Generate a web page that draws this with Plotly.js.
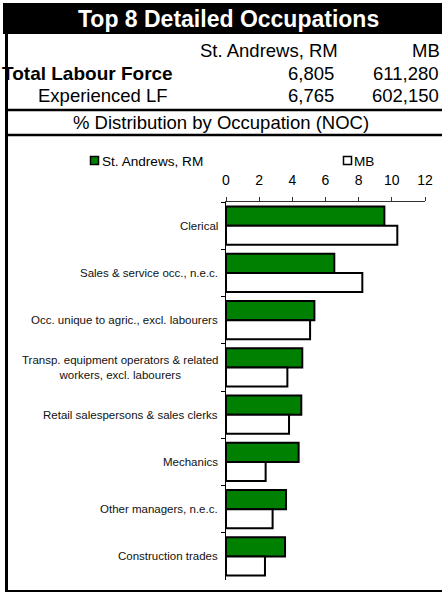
<!DOCTYPE html>
<html>
<head>
<meta charset="utf-8">
<script src="https://cdn.plot.ly/plotly-3.0.1.min.js"></script>
<style>
html,body{margin:0;padding:0;background:#fff;}
#chart{width:442px;height:594px;}
</style>
</head>
<body>
<div id="chart"></div>
<script>
// ---- data ----
var chartTitle = "Top 8 Detailed Occupations";
var regionNames = ["St. Andrews, RM", "MB"];
var totalLabourForce = [6805, 611280];
var experiencedLF = [6765, 602150];
var sectionTitle = "% Distribution by Occupation (NOC)";
var categories = [
  "Clerical",
  "Sales & service occ., n.e.c.",
  "Occ. unique to agric., excl. labourers",
  "Transp. equipment operators & related<br>workers, excl. labourers",
  "Retail salespersons & sales clerks",
  "Mechanics",
  "Other managers, n.e.c.",
  "Construction trades"
];
var stAndrewsValues = [9.55, 6.53, 5.33, 4.60, 4.54, 4.38, 3.62, 3.56];
var mbValues        = [10.33, 8.22, 5.07, 3.70, 3.80, 2.39, 2.81, 2.35];
var xTicks = [0, 2, 4, 6, 8, 10, 12];

// ---- layout helpers (pixel -> paper) ----
var W = 442, H = 594;
var PL = 226, PR = 425, PT = 202, PB = 580;
function px(x){ return (x - PL) / (PR - PL); }
function py(y){ return (PB - y) / (PB - PT); }
var FONT = "Liberation Sans, Arial, Helvetica, sans-serif";
function fmt(n){ return n.toLocaleString('en-US'); }

var traces = [
  {type:'bar', orientation:'h', name: regionNames[0], y: categories, x: stAndrewsValues,
   marker:{color:'#008000', line:{color:'#000', width:2}}, showlegend:false, hoverinfo:'x+y'},
  {type:'bar', orientation:'h', name: regionNames[1], y: categories, x: mbValues,
   marker:{color:'#ffffff', line:{color:'#000', width:2}}, showlegend:false, hoverinfo:'x+y'}
];

var shapes = [
  // header band
  {type:'rect', xref:'paper', yref:'paper', x0:px(3), x1:px(442), y0:py(3), y1:py(34), fillcolor:'#000', line:{width:0}},
  // left border
  {type:'line', xref:'paper', yref:'paper', x0:px(6.5), x1:px(6.5), y0:py(34), y1:py(592), line:{color:'#000', width:3}},
  // bottom border
  {type:'line', xref:'paper', yref:'paper', x0:px(5), x1:px(442), y0:py(591), y1:py(591), line:{color:'#000', width:2}},
  // row separators
  {type:'line', xref:'paper', yref:'paper', x0:px(5), x1:px(442), y0:py(110), y1:py(110), line:{color:'#000', width:2.5}},
  {type:'line', xref:'paper', yref:'paper', x0:px(5), x1:px(442), y0:py(135), y1:py(135), line:{color:'#000', width:2.5}},
  // legend swatches
  {type:'rect', xref:'paper', yref:'paper', x0:px(90.5), x1:px(98.5), y0:py(156.5), y1:py(164.5), fillcolor:'#008000', line:{color:'#000', width:1.5}},
  {type:'rect', xref:'paper', yref:'paper', x0:px(343.5), x1:px(351.5), y0:py(156.5), y1:py(164.5), fillcolor:'#ffffff', line:{color:'#000', width:1.5}}
];

function ann(text, x, y, anchor, size, opts){
  opts = opts || {};
  return {xref:'paper', yref:'paper', x:px(x), y:py(y), xanchor:anchor, yanchor:'middle',
    text:text, showarrow:false, align: opts.align || 'center',
    font:{family:FONT, size:size, color: opts.color || '#000'}};
}

var annotations = [
  ann('<b>' + chartTitle + '</b>', 228, 19, 'center', 23, {color:'#fff'}),
  ann(regionNames[0], 340, 50, 'right', 18.5),
  ann(regionNames[1], 442, 50, 'right', 18.5),
  ann('<b>Total Labour Force</b>', 0, 73, 'left', 19),
  ann(fmt(totalLabourForce[0]), 336, 73, 'right', 18.5),
  ann(fmt(totalLabourForce[1]), 441, 73, 'right', 18.5),
  ann('Experienced LF', 36, 95.5, 'left', 18.5),
  ann(fmt(experiencedLF[0]), 336, 95.5, 'right', 18.5),
  ann(fmt(experiencedLF[1]), 441, 95.5, 'right', 18.5),
  ann(sectionTitle, 221, 122.5, 'center', 18.5),
  // legend labels
  ann(regionNames[0], 100, 161, 'left', 13.6),
  ann(regionNames[1], 352, 161, 'left', 13.6)
];
categories.forEach(function(c){
  annotations.push({xref:'paper', yref:'y', x:0, y:c, xanchor:'right', yanchor:'middle', xshift:-6,
    text:c, showarrow:false, align:'center', font:{family:FONT, size:11.5, color:'#111'}});
});

var layout = {
  width: W, height: H,
  margin:{l:PL, r:W-PR, t:PT, b:H-PB, pad:0},
  paper_bgcolor:'#fff', plot_bgcolor:'#fff',
  barmode:'group', bargap:0.19, bargroupgap:0,
  font:{family:FONT, color:'#000'},
  showlegend:false,
  xaxis:{side:'top', range:[0,12], tickvals:xTicks, ticktext:xTicks.map(String),
    showgrid:false, zeroline:false, showline:true, linecolor:'#333', linewidth:1,
    ticks:'outside', ticklen:4, tickcolor:'#333', tickfont:{family:FONT, size:14, color:'#000'},
    ticklabelstandoff:6, fixedrange:true},
  yaxis:{autorange:'reversed', type:'category', showticklabels:false, showgrid:false, zeroline:false,
    showline:true, linecolor:'#000', linewidth:1, ticks:'outside', ticklen:4, tickcolor:'#000',
    tickson:'boundaries', fixedrange:true},
  shapes: shapes,
  annotations: annotations
};

Plotly.newPlot('chart', traces, layout, {displayModeBar:false, staticPlot:true});
</script>
</body>
</html>
